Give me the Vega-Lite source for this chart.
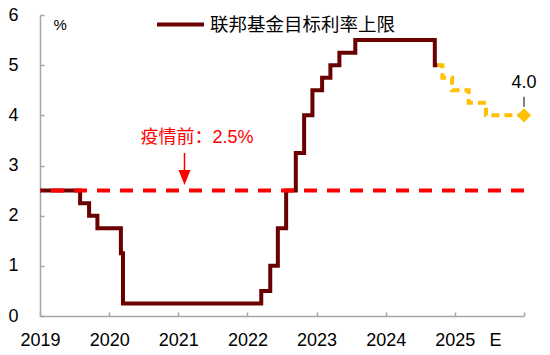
{
  "$schema": "https://vega.github.io/schema/vega-lite/v6.json",
  "width": 484,
  "height": 301,
  "autosize": "none",
  "padding": {"left": 40, "top": 15, "right": 26, "bottom": 39},
  "background": "white",
  "config": {
    "view": {"stroke": null},
    "font": "Liberation Sans, Noto Sans CJK SC, sans-serif",
    "legend": {"labelFontSize": 18.5}
  },
  "datasets": {
    "actual": [
      {"t": 2019.0, "rate": 2.5, "s": "联邦基金目标利率上限"},
      {"t": 2019.58, "rate": 2.25, "s": "联邦基金目标利率上限"},
      {"t": 2019.71, "rate": 2.0, "s": "联邦基金目标利率上限"},
      {"t": 2019.83, "rate": 1.75, "s": "联邦基金目标利率上限"},
      {"t": 2020.17, "rate": 1.25, "s": "联邦基金目标利率上限"},
      {"t": 2020.2, "rate": 0.25, "s": "联邦基金目标利率上限"},
      {"t": 2022.2, "rate": 0.5, "s": "联邦基金目标利率上限"},
      {"t": 2022.33, "rate": 1.0, "s": "联邦基金目标利率上限"},
      {"t": 2022.44, "rate": 1.75, "s": "联邦基金目标利率上限"},
      {"t": 2022.56, "rate": 2.5, "s": "联邦基金目标利率上限"},
      {"t": 2022.7, "rate": 3.25, "s": "联邦基金目标利率上限"},
      {"t": 2022.82, "rate": 4.0, "s": "联邦基金目标利率上限"},
      {"t": 2022.94, "rate": 4.5, "s": "联邦基金目标利率上限"},
      {"t": 2023.08, "rate": 4.75, "s": "联邦基金目标利率上限"},
      {"t": 2023.2, "rate": 5.0, "s": "联邦基金目标利率上限"},
      {"t": 2023.33, "rate": 5.25, "s": "联邦基金目标利率上限"},
      {"t": 2023.56, "rate": 5.5, "s": "联邦基金目标利率上限"},
      {"t": 2024.71, "rate": 5.0, "s": "联邦基金目标利率上限"},
      {"t": 2024.75, "rate": 5.0, "s": "联邦基金目标利率上限"}
    ],
    "forecast": [
      {"t": 2024.75, "rate": 5.0},
      {"t": 2024.82, "rate": 4.75},
      {"t": 2024.96, "rate": 4.5},
      {"t": 2025.2, "rate": 4.25},
      {"t": 2025.45, "rate": 4.0},
      {"t": 2026.0, "rate": 4.0}
    ],
    "endpoint": [{"t": 2026.0, "rate": 4.0, "label": "4.0", "ly": 4.64, "l1": 4.17, "l2": 4.37}],
    "pre": [{"rate": 2.5}],
    "note": [{"t": 2021.27, "y": 3.54, "tx": "疫情前：2.5%", "ax": 2021.09, "a1": 3.25, "a2": 2.9, "ay": 2.76}],
    "unit": [{"t": 2019.29, "y": 5.8, "tx": "%"}]
  },
  "layer": [
    {
      "data": {"name": "actual"},
      "mark": {"type": "line", "interpolate": "step-after", "strokeWidth": 4, "strokeCap": "butt"},
      "encoding": {
        "x": {
          "field": "t", "type": "quantitative",
          "scale": {"domain": [2019, 2026], "nice": false, "zero": false},
          "axis": {
            "title": null,
            "values": [2019, 2020, 2021, 2022, 2023, 2024, 2025, 2026],
            "labelExpr": "datum.value == 2026 ? 'E' : '' + datum.value",
            "labelFlush": false,
            "labelOverlap": false,
            "labelFontSize": 18,
            "labelColor": "#000000",
            "labelFont": "Liberation Sans",
            "labelPadding": 19,
            "labelOffset": {"condition": {"test": "datum.value == 2026", "value": -29}, "value": 0},
            "tickSize": -4,
            "tickColor": "#A6A6A6",
            "tickWidth": 1.5,
            "domainColor": "#A6A6A6",
            "domainWidth": 1.5,
            "grid": false
          }
        },
        "y": {
          "field": "rate", "type": "quantitative",
          "scale": {"domain": [0, 6], "nice": false},
          "axis": {
            "title": null,
            "values": [0, 1, 2, 3, 4, 5, 6],
            "format": "d",
            "labelFontSize": 18,
            "labelColor": "#000000",
            "labelFont": "Liberation Sans",
            "labelPadding": 26,
            "tickSize": -4,
            "tickColor": "#A6A6A6",
            "tickWidth": 1.5,
            "domainColor": "#A6A6A6",
            "domainWidth": 1.5,
            "grid": false
          }
        },
        "color": {
          "field": "s", "type": "nominal",
          "scale": {"range": ["#6B0000"]},
          "legend": {
            "title": null,
            "orient": "none",
            "legendX": 115,
            "legendY": -16,
            "padding": 0,
            "symbolType": "stroke",
            "symbolSize": 2209,
            "symbolStrokeWidth": 4,
            "labelFontSize": 18.5,
            "labelFont": "Noto Sans CJK SC",
            "labelColor": "#000000",
            "labelLimit": 400,
            "labelOffset": 4
          }
        }
      }
    },
    {
      "data": {"name": "forecast"},
      "mark": {"type": "line", "interpolate": "step-after", "strokeWidth": 4, "color": "#FFC000", "strokeDash": [8, 5]},
      "encoding": {
        "x": {"field": "t", "type": "quantitative"},
        "y": {"field": "rate", "type": "quantitative"}
      }
    },
    {
      "data": {"name": "pre"},
      "mark": {"type": "rule", "color": "#FF0000", "strokeWidth": 4, "strokeDash": [13, 10]},
      "encoding": {
        "y": {"field": "rate", "type": "quantitative"}
      }
    },
    {
      "data": {"name": "endpoint"},
      "mark": {"type": "point", "shape": "diamond", "filled": true, "color": "#FFC000", "size": 200, "opacity": 1},
      "encoding": {
        "x": {"field": "t", "type": "quantitative"},
        "y": {"field": "rate", "type": "quantitative"}
      }
    },
    {
      "data": {"name": "endpoint"},
      "mark": {"type": "rule", "color": "#000000", "strokeWidth": 1},
      "encoding": {
        "x": {"field": "t", "type": "quantitative"},
        "y": {"field": "l1", "type": "quantitative"},
        "y2": {"field": "l2"}
      }
    },
    {
      "data": {"name": "endpoint"},
      "mark": {"type": "text", "fontSize": 18, "color": "#000000", "font": "Liberation Sans", "align": "center", "baseline": "middle"},
      "encoding": {
        "x": {"field": "t", "type": "quantitative"},
        "y": {"field": "ly", "type": "quantitative"},
        "text": {"field": "label"}
      }
    },
    {
      "data": {"name": "note"},
      "mark": {"type": "text", "fontSize": 18, "color": "#FF0000", "align": "center", "baseline": "middle"},
      "encoding": {
        "x": {"field": "t", "type": "quantitative"},
        "y": {"field": "y", "type": "quantitative"},
        "text": {"field": "tx"}
      }
    },
    {
      "data": {"name": "note"},
      "mark": {"type": "rule", "color": "#FF0000", "strokeWidth": 1.5},
      "encoding": {
        "x": {"field": "ax", "type": "quantitative"},
        "y": {"field": "a1", "type": "quantitative"},
        "y2": {"field": "a2"}
      }
    },
    {
      "data": {"name": "note"},
      "mark": {"type": "point", "shape": "M-0.8,-1L0.8,-1L0,1Z", "filled": true, "color": "#FF0000", "size": 225, "opacity": 1},
      "encoding": {
        "x": {"field": "ax", "type": "quantitative"},
        "y": {"field": "ay", "type": "quantitative"}
      }
    },
    {
      "data": {"name": "unit"},
      "mark": {"type": "text", "fontSize": 15, "color": "#000000", "font": "Liberation Sans", "align": "center", "baseline": "middle"},
      "encoding": {
        "x": {"field": "t", "type": "quantitative"},
        "y": {"field": "y", "type": "quantitative"},
        "text": {"field": "tx"}
      }
    }
  ]
}
